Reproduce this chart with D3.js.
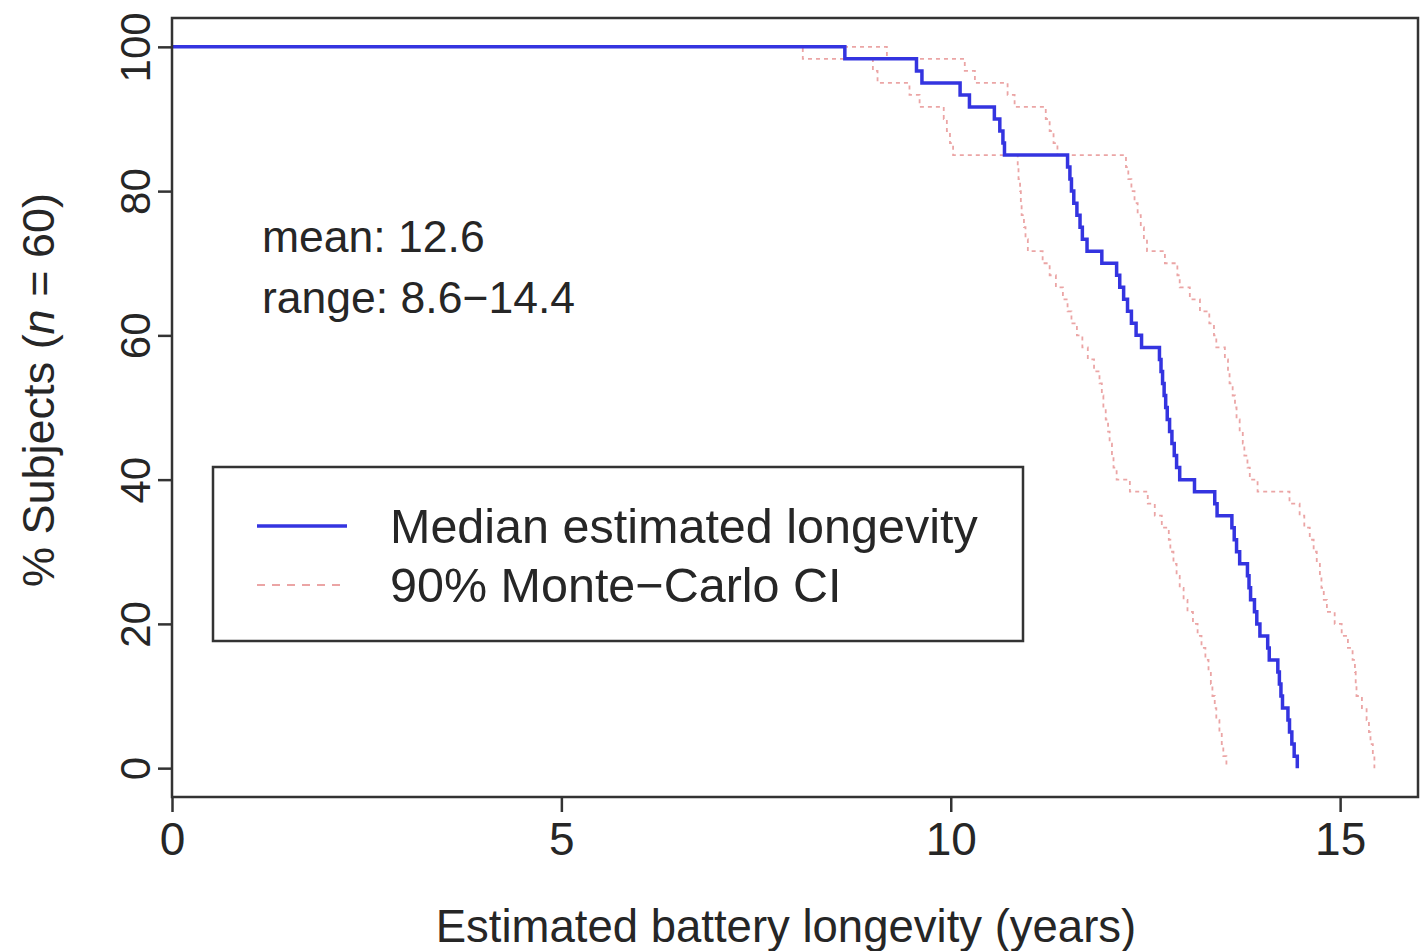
<!DOCTYPE html>
<html>
<head>
<meta charset="utf-8">
<script src="https://cdn.jsdelivr.net/npm/d3@7"></script>
<style>
  body { margin: 0; background: #fff; }
  svg { display: block; font-family: "Liberation Sans", Arial, sans-serif; }
</style>
</head>
<body>
<svg id="chart" width="1422" height="951"></svg>
<script>
// sorted longevity values (years), n = 60 each
var medianTimes = [8.64, 9.56, 9.63, 10.12, 10.24, 10.56, 10.63, 10.67, 10.69,
	11.50, 11.53, 11.55, 11.58, 11.62, 11.66, 11.69, 11.75,
	11.94,
	12.13, 12.17, 12.22, 12.27, 12.32, 12.38, 12.45,
	12.68, 12.70, 12.72, 12.74, 12.76, 12.78, 12.81, 12.84, 12.87, 12.90, 12.94,
	13.13,
	13.39, 13.42,
	13.61, 13.64, 13.67, 13.71,
	13.81, 13.83, 13.85,
	13.90, 13.93, 13.97,
	14.07, 14.09,
	14.20, 14.22, 14.24, 14.26,
	14.33, 14.35,
	14.38, 14.41, 14.45]

var lowerTimes = [8.10, 9.00, 9.06, 9.47, 9.60, 9.91, 9.95, 9.99, 10.03,
	10.86, 10.87, 10.89, 10.90, 10.91, 10.94, 10.96, 10.99,
	11.18, 11.27, 11.35,
	11.44, 11.50, 11.55, 11.62, 11.69,
	11.76, 11.84, 11.91,
	11.94, 11.96, 11.99, 12.02, 12.04, 12.07, 12.09, 12.13,
	12.30, 12.53,
	12.62, 12.71,
	12.80, 12.82, 12.86, 12.90, 12.94,
	12.99, 13.04, 13.11, 13.17, 13.22, 13.27,
	13.31, 13.34, 13.36, 13.39, 13.41, 13.45, 13.48, 13.50, 13.54]

var upperTimes = [9.18, 10.18, 10.31, 10.73, 10.82, 11.22, 11.27, 11.32, 11.37,
	12.25, 12.28, 12.32, 12.36, 12.40, 12.44, 12.48, 12.52,
	12.75, 12.91, 12.94,
	13.07, 13.20, 13.32, 13.38, 13.41,
	13.52, 13.56, 13.58, 13.62, 13.65, 13.67, 13.71,
	13.75, 13.77, 13.81, 13.84,
	13.94,
	14.35, 14.48, 14.54, 14.61,
	14.66, 14.70, 14.74,
	14.76, 14.79, 14.83,
	14.93, 15.02, 15.10, 15.16,
	15.19, 15.20, 15.21,
	15.28, 15.34,
	15.37, 15.39, 15.42, 15.44]

var xTicks = [0, 5, 10, 15]
var yTicks = [0, 20, 40, 60, 80, 100]
var legendLabels = ["Median estimated longevity", "90% Monte\u2212Carlo CI"]
var statLines = ["mean: 12.6", "range: 8.6\u221214.4"]

var svg = d3.select("#chart")
var margin = {top: 18, right: 4, bottom: 154, left: 172}
var width = 1422, height = 951

var x = d3.scaleLinear().domain([0, 16]).range([margin.left, width - margin.right])
var y = d3.scaleLinear().domain([-4, 104]).range([height - margin.bottom, margin.top])

var blue = "#3434e0"
var pink = "#eba5a5"
var frame = "#333"
var ink = "#262626"

// turn sorted event times into step points: % still "alive"
function toSteps(times){
	var n = times.length
	var pts = [{t: 0, p: 100}]
	times.forEach(function(t, i){ pts.push({t: t, p: 100 * (n - i - 1) / n}) })
	return pts
}

var line = d3.line()
	.x(function(d){ return x(d.t) })
	.y(function(d){ return y(d.p) })
	.curve(d3.curveStepAfter)

var g = svg.append("g")

// CI curves
;[lowerTimes, upperTimes].forEach(function(times){
	g.append("path")
		.datum(toSteps(times))
		.attr("d", line)
		.attr("fill", "none")
		.attr("stroke", pink)
		.attr("stroke-width", 1.8)
		.attr("stroke-dasharray", "4,4")
})

// median curve
g.append("path")
	.datum(toSteps(medianTimes))
	.attr("d", line)
	.attr("fill", "none")
	.attr("stroke", blue)
	.attr("stroke-width", 3.5)

// axes
var xAxis = svg.append("g")
	.attr("transform", "translate(0," + (height - margin.bottom) + ")")
	.call(d3.axisBottom(x).tickValues(xTicks).tickSize(15).tickPadding(10).tickFormat(d3.format("d")))
xAxis.select(".domain").remove()
xAxis.selectAll("line").attr("stroke", frame).attr("stroke-width", 2.5)
xAxis.selectAll("text").attr("font-size", 46).attr("fill", ink)

var yAxis = svg.append("g")
	.attr("transform", "translate(" + margin.left + ",0)")
	.call(d3.axisLeft(y).tickValues(yTicks).tickSize(14).tickFormat(d3.format("d")))
yAxis.select(".domain").remove()
yAxis.selectAll("line").attr("stroke", frame).attr("stroke-width", 2.5)
yAxis.selectAll("text")
	.attr("font-size", 42)
	.attr("fill", ink)
	.attr("x", null).attr("dy", null)
	.attr("text-anchor", "middle")
	.attr("transform", "translate(-22,0) rotate(-90)")

// box
svg.append("rect")
	.attr("x", margin.left).attr("y", margin.top)
	.attr("width", width - margin.right - margin.left)
	.attr("height", height - margin.bottom - margin.top)
	.attr("fill", "none")
	.attr("stroke", frame)
	.attr("stroke-width", 2.5)

// axis titles
svg.append("text")
	.attr("x", 786).attr("y", 942)
	.attr("text-anchor", "middle")
	.attr("font-size", 45.5)
	.attr("fill", ink)
	.text("Estimated battery longevity (years)")

var yt = svg.append("text")
	.attr("transform", "translate(54,390) rotate(-90)")
	.attr("text-anchor", "middle")
	.attr("font-size", 45)
	.attr("fill", ink)
yt.append("tspan").text("% Subjects (")
yt.append("tspan").attr("font-style", "italic").text("n")
yt.append("tspan").text(" = 60)")

// mean / range
svg.selectAll(".stat")
	.data(statLines)
	.enter().append("text")
	.attr("class", "stat")
	.attr("x", 262)
	.attr("y", function(d, i){ return 252 + i * 61 })
	.attr("font-size", 44.5)
	.attr("fill", ink)
	.text(function(d){ return d })

// legend
var leg = svg.append("g")
leg.append("rect")
	.attr("x", 213).attr("y", 467)
	.attr("width", 810).attr("height", 174)
	.attr("fill", "#fff")
	.attr("stroke", frame)
	.attr("stroke-width", 2.5)

legendLabels.forEach(function(lab, i){
	var ly = 526 + i * 59
	leg.append("line")
		.attr("x1", 257).attr("x2", 347)
		.attr("y1", ly).attr("y2", ly)
		.attr("stroke", i == 0 ? blue : pink)
		.attr("stroke-width", i == 0 ? 3.5 : 2)
		.attr("stroke-dasharray", i == 0 ? null : "8,7")
	leg.append("text")
		.attr("x", 390).attr("y", ly + 17)
		.attr("font-size", 48.5)
		.attr("fill", ink)
		.text(lab)
})
</script>
</body>
</html>
